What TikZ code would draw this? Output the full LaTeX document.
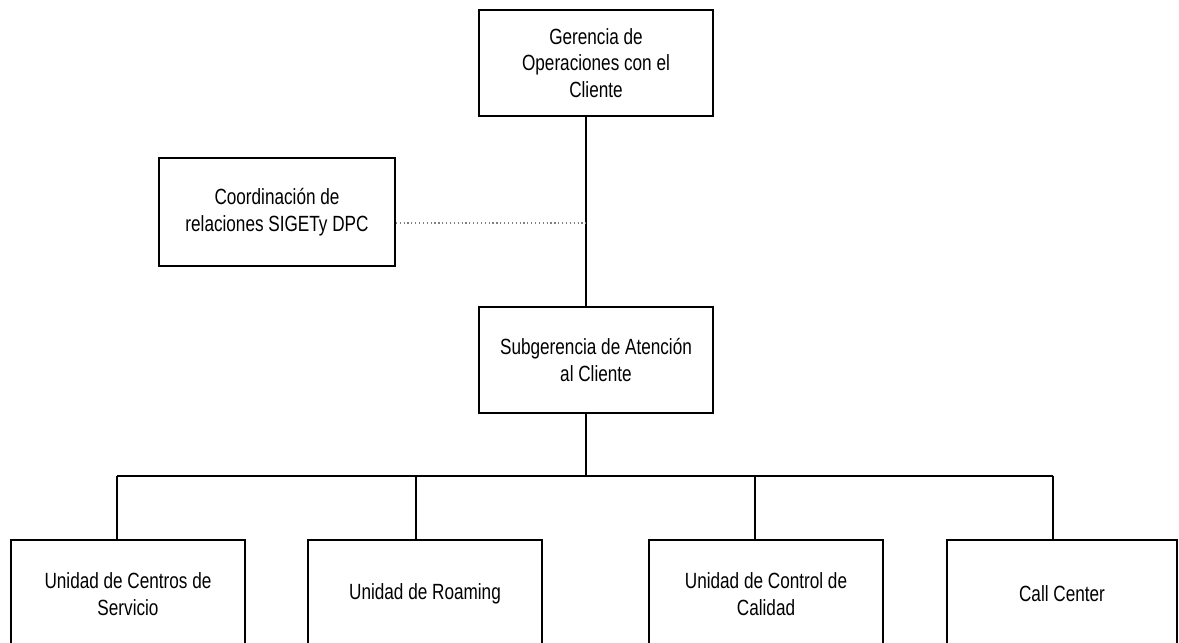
\documentclass[tikz,border=0pt]{standalone}
\usepackage{fontspec}
\setmainfont{Liberation Sans}
\newfontfamily\boxfont[FakeStretch=0.78]{Liberation Sans}
\begin{document}
\begin{tikzpicture}[x=0.75pt,y=-0.75pt,
  orgbox/.style={draw=black,line width=1.2pt,fill=white,rectangle,align=center,
    minimum width=175.5pt,minimum height=79.5pt,inner sep=0pt,
    font=\boxfont\fontsize{16.5}{19.9}\selectfont},
  link/.style={draw=black,line width=1.1pt},
  dotlink/.style={draw=gray,line width=0.9pt,dotted}]
\useasboundingbox (0,0) rectangle (1179,643);
\clip (0,0) rectangle (1179,643);
\fill[white] (0,0) rectangle (1179,643);
\coordinate (trunk) at (586,0);
\coordinate (bus) at (0,476);
\coordinate (dot) at (586,223);
\coordinate (d1) at (117,476);
\coordinate (d2) at (416,476);
\coordinate (d3) at (755,476);
\coordinate (d4) at (1053,476);
\node[orgbox] (ger) at (596,63) {Gerencia de\\Operaciones con el\\Cliente};
\node[orgbox,minimum width=177pt,minimum height=81pt] (coord) at (277,212) {Coordinación de\\relaciones SIGETy DPC};
\node[orgbox] (sub) at (596,360) {Subgerencia de Atención\\al Cliente};
\node[orgbox,minimum height=81pt] (u1) at (128,594) {Unidad de Centros de\\Servicio};
\node[orgbox,minimum height=81pt] (u2) at (425,594) {Unidad de Roaming};
\node[orgbox,minimum height=81pt] (u3) at (766,594) {Unidad de Control de\\Calidad};
\node[orgbox,minimum height=81pt,minimum width=172.5pt] (u4) at (1062,594) {Call Center};
\draw[link] (ger.south -| trunk) -- (sub.north -| trunk);
\draw[dotlink] (coord.east |- dot) -- (dot);
\draw[link] (sub.south -| trunk) -- (bus -| trunk);
\draw[link] (d1) -- (d4);
\draw[link] (d1) -- (u1.north -| d1);
\draw[link] (d2) -- (u2.north -| d2);
\draw[link] (d3) -- (u3.north -| d3);
\draw[link] (d4) -- (u4.north -| d4);
\end{tikzpicture}
\end{document}
